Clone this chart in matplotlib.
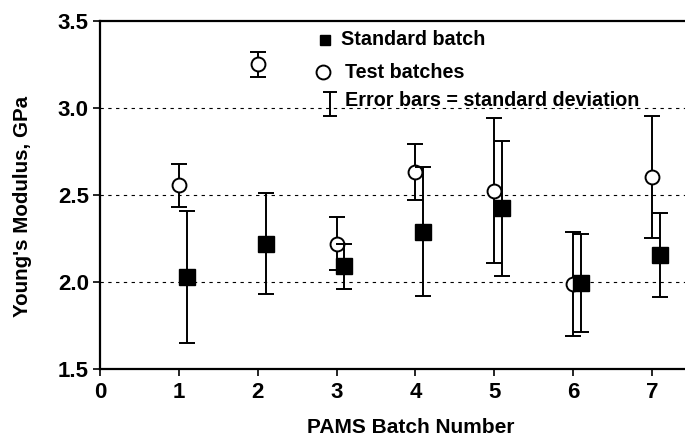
import matplotlib
matplotlib.use("Agg")
import matplotlib.pyplot as plt
from matplotlib import font_manager

names = {f.name for f in font_manager.fontManager.ttflist}
NARROW = 'Liberation Sans Narrow' if 'Liberation Sans Narrow' in names else 'Liberation Sans'
REG = 'Liberation Sans'

# Data
batches = [1, 2, 3, 4, 5, 6, 7]
test_mean = [2.555, 3.25, 2.22, 2.63, 2.525, 1.99, 2.605]
test_sd = [0.125, 0.072, 0.152, 0.16, 0.415, 0.30, 0.35]
std_mean = [2.03, 2.22, 2.09, 2.29, 2.425, 1.995, 2.155]
std_sd = [0.378, 0.29, 0.13, 0.37, 0.387, 0.28, 0.243]
std_offset = 0.1

xticks = [0, 1, 2, 3, 4, 5, 6, 7]
yticks = [1.5, 2.0, 2.5, 3.0, 3.5]

fig = plt.figure(figsize=(6.85, 4.38), dpi=100)
ax = fig.add_axes([100/685, 1-369.3/438, 1-100/685, (369.3-20.7)/438])

for y in [2.0, 2.5, 3.0]:
    ax.axhline(y, color='black', lw=0.8, ls=(0, (3, 4)), zorder=0)

ax.errorbar(batches, test_mean, yerr=test_sd, fmt='o', ms=10, mfc='white',
            mec='black', mew=1.4, ecolor='black', elinewidth=1.4, capsize=6,
            capthick=1.4, zorder=3)
ax.errorbar([b + std_offset for b in batches], std_mean, yerr=std_sd, fmt='s',
            ms=11.5, mfc='black', mec='black', ecolor='black', elinewidth=1.4,
            capsize=6, capthick=1.4, zorder=4)

ax.set_xlim(0, 7.42)
ax.set_ylim(1.5, 3.5)
ax.set_xticks(xticks)
ax.set_yticks(yticks)
ax.set_xticklabels([str(t) for t in xticks])
ax.set_yticklabels([f"{t:.1f}" for t in yticks])
for lab in ax.get_xticklabels() + ax.get_yticklabels():
    lab.set_fontfamily(NARROW)
    lab.set_fontweight('bold')
    lab.set_fontsize(16)
ax.tick_params(axis='both', direction='out', length=5, width=1.2, color='black')
ax.tick_params(axis='x', pad=4)
ax.tick_params(axis='y', pad=3)
ax.spines['right'].set_visible(False)
for s in ['left', 'bottom', 'top']:
    ax.spines[s].set_linewidth(1.6)

ax.set_xlabel('PAMS Batch Number', fontfamily=REG, fontweight='bold', fontsize=15, va='center')
ax.set_ylabel("Young's Modulus, GPa", fontfamily=REG, fontweight='bold', fontsize=14.8, va='center')
ax.xaxis.set_label_coords(0.532, -0.168)
ax.yaxis.set_label_coords(-0.132, 0.468)

# custom legend
tr = ax.transAxes
ax.plot([0.385], [0.944], 's', ms=7.5, color='black', transform=tr, clip_on=False)
ax.plot([0.381], [0.853], 'o', ms=10, mfc='white', mec='black', mew=1.4, transform=tr, clip_on=False)
ax.errorbar([0.393], [0.7615], yerr=[0.0345], fmt='none', ecolor='black', elinewidth=1.4,
            capsize=5, capthick=1.4, transform=tr, clip_on=False)
lkw = dict(transform=tr, fontfamily=NARROW, fontweight='bold', fontsize=14.2, va='center', ha='left')
ax.text(0.412, 0.945, 'Standard batch', **lkw)
ax.text(0.419, 0.850, 'Test batches', **lkw)
ax.text(0.419, 0.772, 'Error bars = standard deviation', **lkw)

fig.savefig('out.png', dpi=100)
